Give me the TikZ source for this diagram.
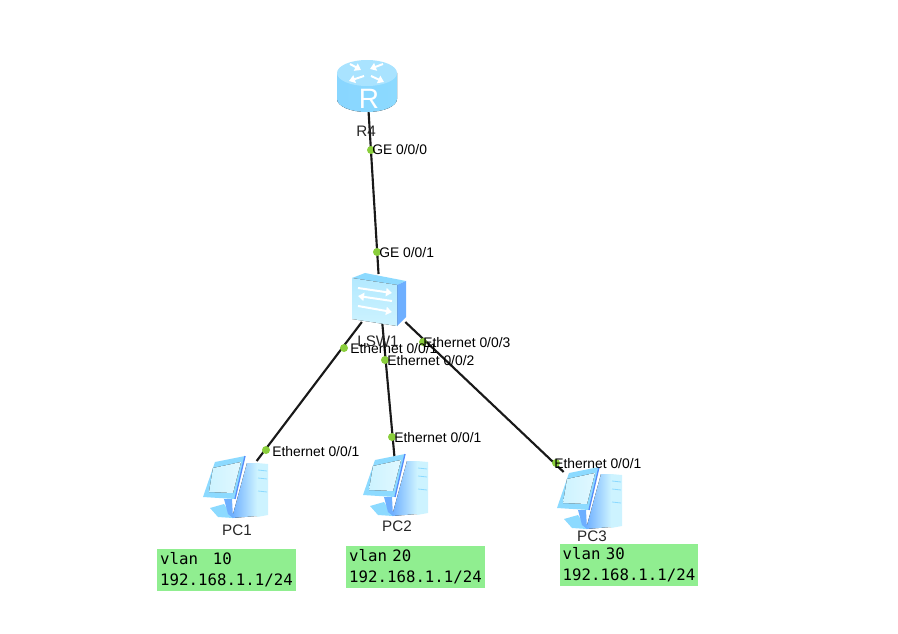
\documentclass[tikz,border=0pt]{standalone}
\usepackage{fontspec}
\setmainfont{Liberation Sans}
\newfontfamily\vlanfont{DejaVu Sans Mono}
\usetikzlibrary{arrows.meta}
\definecolor{portgreen}{RGB}{138,206,60}
\definecolor{vlangreen}{RGB}{144,238,144}
\definecolor{iconlight}{RGB}{205,243,255}
\definecolor{iconmid}{RGB}{140,218,255}
\definecolor{icondark}{RGB}{110,175,255}
\definecolor{iconedge}{RGB}{85,140,250}
\tikzset{
	netdev/.style={inner sep=0pt, outer sep=0pt, rectangle},
	link/.style={line width=1.6pt, black!90},
	portdot/.style={circle, fill=portgreen, inner sep=0pt, minimum size=6pt},
	portlabel/.style={font=\fontsize{10.4}{12}\selectfont, anchor=west, inner sep=0pt},
	hostlabel/.style={font=\fontsize{11.4}{13}\selectfont, inner sep=0pt, black!85},
	vlanbox/.style={fill=vlangreen, anchor=north west, inner sep=2.4pt, outer sep=0pt, align=left,
		text width=99.4pt, minimum height=31.5pt, font=\vlanfont\fontsize{11.8}{15.6}\selectfont},
	whitearrow/.style={white, line width=1.5pt, -{Triangle[length=4.5pt,width=6pt]}},
	router/.pic={
		\fill[left color=iconmid!90!icondark, right color=iconmid] (-30,-13) -- (-30,13) arc[start angle=180, end angle=0, x radius=30, y radius=13] -- (30,-13) -- cycle;
		\fill[iconmid!75!white] (0,-13) ellipse[x radius=30, y radius=13];
		\draw[whitearrow] (-17,-22) -- (-6,-16);
		\draw[whitearrow] (-3,-10) -- (-18,-5);
		\draw[whitearrow] (16,-22) -- (3,-17);
		\draw[whitearrow] (4,-10) -- (17,-4);
		\node[white, font=\fontsize{21}{21}\selectfont, inner sep=0pt] at (2,13) {R};
	},
	switchbox/.pic={
		\fill[iconmid] (-28,-20) -- (-15,-25) -- (26,-17) -- (17,-13) -- cycle;
		\fill[icondark] (17,-13) -- (26,-17) -- (26,19) -- (17,28) -- cycle;
		\fill[top color=iconlight!60!iconmid, bottom color=iconlight] (-28,-20) -- (17,-13) -- (17,28) -- (-28,21) -- cycle;
		\draw[whitearrow] (-22,-10) -- (12,-5);
		\draw[whitearrow] (12,3) -- (-22,-2);
		\draw[whitearrow] (-22,8) -- (12,14);
	},
	pcicon/.pic={
		% tower
		\fill[left color=icondark, right color=iconlight] (10,-24) -- (20,-24) -- (20,29) -- (-5,31) -- cycle;
		\fill[iconlight] (20,-24) -- (31,-23) -- (31,28) -- (20,30) -- cycle;
		\draw[iconmid, line width=0.6pt] (21,-17) -- (30,-16) (21,-9) -- (30,-8) (21,4) -- (30,5);
		% stand
		\fill[iconmid] (-27,21) -- (-13,17) -- (-4,31) -- (-19,30) -- cycle;
		\fill[icondark] (-13,12) -- (-5,12) -- (-4,31) -- (-9,27) -- cycle;
		% screen
		\fill[iconmid] (-34,10) -- (-22,-25) -- (8,-31) -- (-2,12) -- cycle;
		\fill[left color=iconlight, right color=iconlight!60!white] (-28,5) -- (-24,-19) -- (4,-25) -- (-4,6) -- cycle;
		\draw[iconedge, line width=1pt] (8,-31) -- (-2,12);
	}
}

\begin{document}
\begin{tikzpicture}[x=0.75pt, y=-0.75pt]
	\useasboundingbox (0,0) rectangle (898,634);

	% Devices
	\node[netdev, minimum width=45pt, minimum height=39pt] (R4) at (367,86) {};
	\node[netdev, minimum width=42pt, minimum height=36pt] (LSW1) at (380,298) {};
	\node[netdev, minimum width=49.5pt, minimum height=39pt] (PC1) at (237,487) {};
	\node[netdev, minimum width=49.5pt, minimum height=39pt] (PC2) at (397,485) {};
	\node[netdev, minimum width=49.5pt, minimum height=39pt] (PC3) at (591,498) {};

	% Links
	\draw[link] (R4) -- (LSW1);
	\draw[link] (LSW1) -- (PC1);
	\draw[link] (LSW1) -- (PC2);
	\draw[link] (LSW1) -- (PC3);

	% Icons
	\pic at (R4.center) {router};
	\pic at (LSW1.center) {switchbox};
	\pic at (PC1.center) {pcicon};
	\pic at (PC2.center) {pcicon};
	\pic at (PC3.center) {pcicon};

	% Device names
	\node[hostlabel] (nameR4) at (366,131) {R4};
	\node[hostlabel] (nameLSW1) at (378,341) {LSW1};
	\node[hostlabel] (namePC1) at (237,530) {PC1};
	\node[hostlabel] (namePC2) at (397,526) {PC2};
	\node[hostlabel] (namePC3) at (592,536) {PC3};

	% Ports
	\node[portdot] (dotA) at (371,150) {};
	\node[portdot] (dotB) at (377,252) {};
	\node[portdot] (dotC) at (344,348) {};
	\node[portdot] (dotD) at (385,360) {};
	\node[portdot] (dotE) at (423,342) {};
	\node[portdot] (dotF) at (266,450) {};
	\node[portdot] (dotG) at (392,437) {};
	\node[portdot] (dotH) at (556,463) {};

	\node[portlabel] (portA) at (372,150) {GE 0/0/0};
	\node[portlabel] (portB) at (379,253) {GE 0/0/1};
	\node[portlabel] (portC) at (350,349) {Ethernet 0/0/1};
	\node[portlabel] (portD) at (387,361) {Ethernet 0/0/2};
	\node[portlabel] (portE) at (423,343) {Ethernet 0/0/3};
	\node[portlabel] (portF) at (272,452) {Ethernet 0/0/1};
	\node[portlabel] (portG) at (394,438) {Ethernet 0/0/1};
	\node[portlabel] (portH) at (554,464) {Ethernet 0/0/1};

	% Vlan notes
	\node[vlanbox] (vlanA) at (157,549) {vlan\ \phantom{0}10\\192.168.1.1/24};
	\node[vlanbox] (vlanB) at (346,546) {vlan 20\\192.168.1.1/24};
	\node[vlanbox] (vlanC) at (559.5,544) {vlan 30\\192.168.1.1/24};

\end{tikzpicture}
\end{document}
